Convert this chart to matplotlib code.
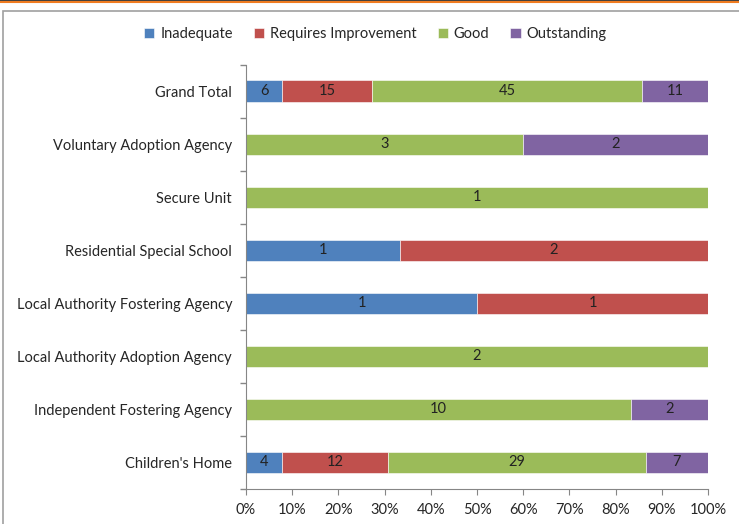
import numpy as np
import matplotlib
matplotlib.use("Agg")
import matplotlib.pyplot as plt
from matplotlib.patches import Rectangle
from matplotlib.lines import Line2D

# ofsted-style ratings by provider type (counts), bottom row first
categories = [
    "Children's Home",
    "Independent Fostering Agency",
    "Local Authority Adoption Agency",
    "Local Authority Fostering Agency",
    "Residential Special School",
    "Secure Unit",
    "Voluntary Adoption Agency",
    "Grand Total",
]
inadequate = [4, 0, 0, 1, 1, 0, 0, 6]
requires_improvement = [12, 0, 0, 1, 2, 0, 0, 15]
good = [29, 10, 2, 0, 0, 1, 3, 45]
outstanding = [7, 2, 0, 0, 0, 0, 2, 11]

series = ["Inadequate", "Requires Improvement", "Good", "Outstanding"]
colors = ["#4F81BD", "#C0504D", "#9BBB59", "#8064A2"]

plt.rcParams["font.family"] = ["Lato", "DejaVu Sans"]

counts = np.array([inadequate, requires_improvement, good, outstanding], dtype=float)
shares = counts / counts.sum(axis=0)

fig = plt.figure(figsize=(7.39, 5.24), dpi=100)
ax = fig.add_axes([0.3329, 0.0668, 0.6252, 0.810])

y = np.arange(len(categories))
left = np.zeros(len(categories))
for name, col, sh, cnt in zip(series, colors, shares, counts):
    bars = ax.barh(y, sh, left=left, height=0.4, color=col, label=name,
                   edgecolor="white", linewidth=0.4)
    labels = [f"{int(c)}" if c > 0 else "" for c in cnt]
    ax.bar_label(bars, labels=labels, label_type="center", fontsize=10.5, color="#222222")
    left += sh

ax.set_xlim(0, 1)
ax.set_ylim(-0.5, len(categories) - 0.5)
ax.set_xticks(np.arange(0, 1.01, 0.1))
ax.set_xticklabels([f"{int(round(v * 100))}%" for v in np.arange(0, 1.01, 0.1)])
ax.set_yticks(y)
ax.set_yticklabels(categories)
ax.set_yticks(np.arange(-0.5, len(categories), 1), minor=True)
ax.tick_params(axis="y", which="major", length=0, pad=10, labelsize=10.5, labelcolor="#262626")
ax.tick_params(axis="y", which="minor", length=4, color="#868686", width=1)
ax.tick_params(axis="x", length=4, color="#868686", labelsize=10.5, labelcolor="#262626", pad=6)

for s in ["top", "right"]:
    ax.spines[s].set_visible(False)
for s in ["left", "bottom"]:
    ax.spines[s].set_color("#868686")

leg = fig.legend(loc="center", bbox_to_anchor=(0.508, 0.935), ncol=4, frameon=False,
                 fontsize=10.5, handlelength=0.7, handleheight=0.7, handletextpad=0.4,
                 columnspacing=1.45)
for t in leg.get_texts():
    t.set_color("#262626")

# outer frame and the dark/orange strip across the top
fig.add_artist(Rectangle((3 / 739, -0.1), 1.0, 1 - 11 / 524 + 0.1, transform=fig.transFigure,
                         fill=False, edgecolor="#A0A0A0", linewidth=1.2))
fig.add_artist(Line2D([0, 1], [1 - 0.5 / 524] * 2, transform=fig.transFigure,
                      color="#1a1a1a", linewidth=1.2))
fig.add_artist(Line2D([0, 1], [1 - 2 / 524] * 2, transform=fig.transFigure,
                      color="#F07C20", linewidth=1.5))

fig.savefig("out.png", dpi=100)
